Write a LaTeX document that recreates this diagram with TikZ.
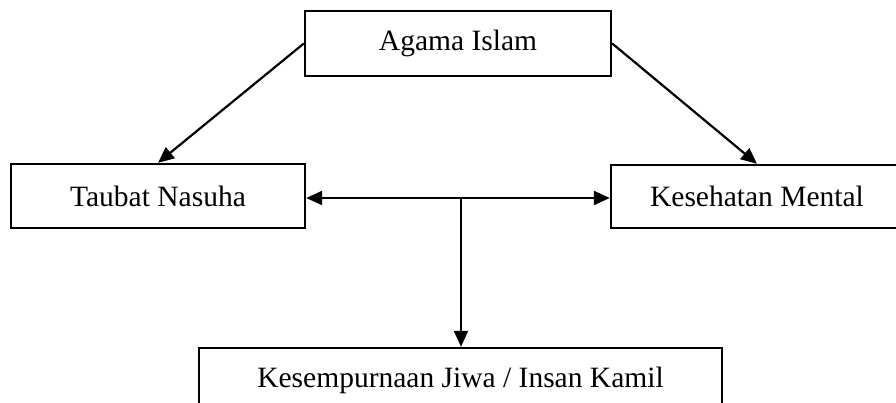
\documentclass[tikz,border=0pt]{standalone}
\usepackage{fontspec}
\setmainfont{Liberation Serif}
\usetikzlibrary{arrows.meta}
\begin{document}
\begin{tikzpicture}[x=1pt,y=-1pt,
  box/.style={draw,line width=2.4pt,inner sep=0pt,font=\fontsize{29.5}{34}\selectfont},
  conn/.style={line width=2.2pt,-{Triangle[length=16pt,width=14pt]}},
  conn2/.style={line width=2.2pt,{Triangle[length=16pt,width=14pt]}-{Triangle[length=16pt,width=14pt]}}]
\clip (0,0) rectangle (896,403);
\fill[white] (0,0) rectangle (896,403);
\node[box,minimum width=306pt,minimum height=65pt] (agama) at (458,43.5) {Agama Islam};
\node[box,minimum width=294pt,minimum height=64pt] (taubat) at (158,196) {Taubat Nasuha};
\node[box,minimum width=292pt,minimum height=63pt] (kes) at (757,196.5) {Kesehatan Mental};
\node[box,minimum width=523pt,minimum height=64pt] (jiwa) at (460.5,380) {Kesempurnaan Jiwa / Insan Kamil};
\coordinate (mid) at (461,198);
\draw[conn] (agama.west) -- (taubat.north);
\draw[conn] (agama.east) -- (kes.north);
\draw[conn2] (taubat.east |- mid) -- (kes.west |- mid);
\draw[conn] (mid) -- (jiwa.north -| mid);
\end{tikzpicture}
\end{document}
